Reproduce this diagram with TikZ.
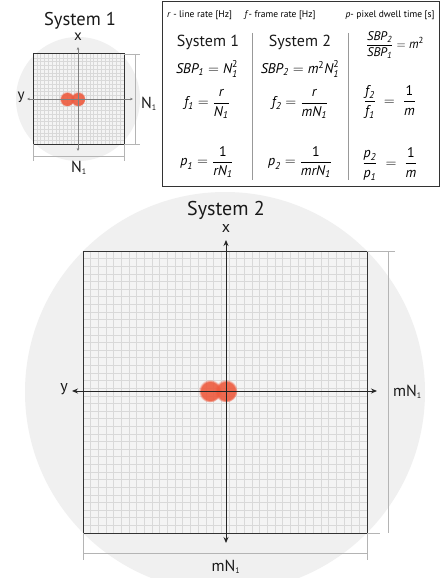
\documentclass[tikz,border=0pt]{standalone}
\usepackage{fontspec}
\setmainfont{PT Sans}
\usepackage{amsmath}
\usetikzlibrary{arrows.meta,fadings}
\definecolor{bgcirc}{HTML}{F0F0F0}
\definecolor{sqfill}{HTML}{F4F4F4}
\definecolor{gridc}{HTML}{D9D9D9}
\definecolor{dimc}{HTML}{B4B4B4}
\definecolor{dotc}{HTML}{EE5A3E}
\newcommand\mi[1]{\textit{#1}}
\newcommand\tx[1]{\text{#1}}
\tikzset{
  gridline/.style={draw=gridc, line width=0.6},
  sqborder/.style={draw=black!80, line width=1.0},
  bigaxis/.style={draw=black!85, line width=0.9, {Stealth[length=6,width=5]}-{Stealth[length=6,width=5]}},
  smallaxis/.style={draw=black!50, line width=0.6, {Stealth[length=3,width=2.6]}-{Stealth[length=3,width=2.6]}},
  dimline/.style={draw=dimc, line width=1},
  sepline/.style={draw=black!40, line width=0.8},
  lbl/.style={inner sep=0, text=black!90},
  math/.style={inner sep=0, font=\fontsize{14}{16}\selectfont},
  hdr/.style={inner sep=0, font=\fontsize{9.5}{11}\selectfont},
  dot/.style={fill=dotc, path fading=circle with fuzzy edge 20 percent, fill opacity=0.9},
}
\begin{document}
\begin{tikzpicture}[x=1pt,y=-1pt]
\useasboundingbox (0,0) rectangle (440,578);
\clip (0,0) rectangle (440,578);
\fill[white] (0,0) rectangle (440,578);
% ---------- background circles
\fill[bgcirc] (225,392) circle[radius=200];
\fill[bgcirc] (78,99) circle[radius=62];

% ---------- large system
\fill[sqfill] (83,251) rectangle (367,533);
\foreach \i in {1,...,36} {
  \draw[gridline] ({83+\i*284/37},251) -- ({83+\i*284/37},533);
  \draw[gridline] (83,{251+\i*282/37}) -- (367,{251+\i*282/37});
}
\draw[sqborder] (83,251) rectangle (367,533);
% dimension lines
\draw[dimline] (367,251) -- (395,251);
\draw[dimline] (367,533) -- (380,533);
\draw[dimline] (388,251) -- (388,533);
\draw[dimline] (83,533) -- (83,560);
\draw[dimline] (367,533) -- (367,560);
\draw[dimline] (83,553) -- (367,553);
% dots
\fill[dot] (210,391) circle[radius=11.5];
\fill[dot] (226,391) circle[radius=11.5];
% axes
\coordinate (Lxt) at (226,240);
\coordinate (Lxb) at (226,543);
\coordinate (Lyl) at (72,391);
\coordinate (Lyr) at (377,391);
\draw[bigaxis] (Lxb) -- (Lxt);
\draw[bigaxis] (Lyl) -- (Lyr);
\node[lbl, font=\fontsize{20}{22}\selectfont] (t2) at (226,210) {System 2};
\node[lbl, font=\fontsize{16}{18}\selectfont] (lx) at (226,228) {x};
\node[lbl, font=\fontsize{16}{18}\selectfont] (ly) at (64,389) {y};
\node[lbl, font=\fontsize{16}{18}\selectfont, anchor=west] (lmr) at (393,392) {mN$_{\text{\fontsize{8}{9}\selectfont 1}}$};
\node[lbl, font=\fontsize{16}{18}\selectfont] (lmb) at (226,567) {mN$_{\text{\fontsize{8}{9}\selectfont 1}}$};

% ---------- small system
\fill[sqfill] (33,54) rectangle (124,144);
\foreach \i in {1,...,23} {
  \draw[gridline, line width=0.45] ({33+\i*91/24},54) -- ({33+\i*91/24},144);
  \draw[gridline, line width=0.45] (33,{54+\i*90/24}) -- (124,{54+\i*90/24});
}
\draw[sqborder] (33,54) rectangle (124,144);
\draw[dimline, line width=0.7] (124,54) -- (140,54);
\draw[dimline, line width=0.7] (124,144) -- (140,144);
\draw[dimline, line width=0.7] (135,54) -- (135,144);
\draw[dimline, line width=0.7] (33,144) -- (33,161);
\draw[dimline, line width=0.7] (124,144) -- (124,161);
\draw[dimline, line width=0.7] (33,156) -- (124,156);
\fill[dot] (67,99) circle[radius=7.5];
\fill[dot] (78,99) circle[radius=7.5];
\coordinate (Sxt) at (78,47);
\coordinate (Sxb) at (78,151);
\coordinate (Syl) at (27,99);
\coordinate (Syr) at (133,99);
\draw[smallaxis] (Sxb) -- (Sxt);
\draw[smallaxis] (Syl) -- (Syr);
\node[lbl, font=\fontsize{18.5}{20}\selectfont] (t1) at (80,21) {System 1};
\node[lbl, font=\fontsize{15}{17}\selectfont] (sx) at (78,37) {x};
\node[lbl, font=\fontsize{15}{17}\selectfont] (sy) at (21,97) {y};
\node[lbl, font=\fontsize{16}{18}\selectfont, anchor=west] (snr) at (141,104) {N$_{\text{\fontsize{8}{9}\selectfont 1}}$};
\node[lbl, font=\fontsize{16}{18}\selectfont] (snb) at (79,168) {N$_{\text{\fontsize{8}{9}\selectfont 1}}$};

% ---------- table
\draw[draw=black!80, line width=0.9, fill=white] (162,1) rectangle (439,186);
\node[hdr] (h1) at (199.5,15) {\mi{r} - line rate [Hz]};
\node[hdr] (h2) at (280,15) {\mi{f}- frame rate [Hz]};
\node[hdr] (h3) at (390,15) {\mi{p}- pixel dwell time [s]};
\draw[sepline] (252,33) -- (252,180);
\draw[sepline] (348,33) -- (348,180);
\node[lbl, font=\fontsize{16}{18}\selectfont] (c1) at (208,42) {System 1};
\node[lbl, font=\fontsize{16}{18}\selectfont] (c2) at (300,42) {System 2};
\node[math] (a1) at (207,69) {$\mi{SBP}_{\mi{1}} = \mi{N}_{\mi{1}}^{\tx{2}}$};
\node[math] (a2) at (300,69) {$\mi{SBP}_{\mi{2}} = \mi{m}^{\tx{2}}\mi{N}_{\mi{1}}^{\tx{2}}$};
\node[math, font=\fontsize{12.5}{14}\selectfont] (a3) at (395,45) {$\dfrac{\mi{SBP}_{\mi{2}}}{\mi{SBP}_{\mi{1}}} = \mi{m}^{\tx{2}}$};
\node[math] (b1) at (207,104) {$\mi{f}_{\mi{1}} = \dfrac{\mi{r}}{\mi{N}_{\mi{1}}}$};
\node[math] (b2) at (300,104) {$\mi{f}_{\mi{2}} = \dfrac{\mi{r}}{\mi{mN}_{\mi{1}}}$};
\node[math] (b3) at (390,102) {$\dfrac{\mi{f}_{\mi{2}}}{\mi{f}_{\mi{1}}} \;=\; \dfrac{\tx{1}}{\mi{m}}$};
\node[math] (d1) at (207,162) {$\mi{p}_{\mi{1}} = \dfrac{\tx{1}}{\mi{rN}_{\mi{1}}}$};
\node[math] (d2) at (300,162) {$\mi{p}_{\mi{2}} = \dfrac{\tx{1}}{\mi{mrN}_{\mi{1}}}$};
\node[math] (d3) at (390,164) {$\dfrac{\mi{p}_{\mi{2}}}{\mi{p}_{\mi{1}}} \;=\; \dfrac{\tx{1}}{\mi{m}}$};
\end{tikzpicture}
\end{document}
